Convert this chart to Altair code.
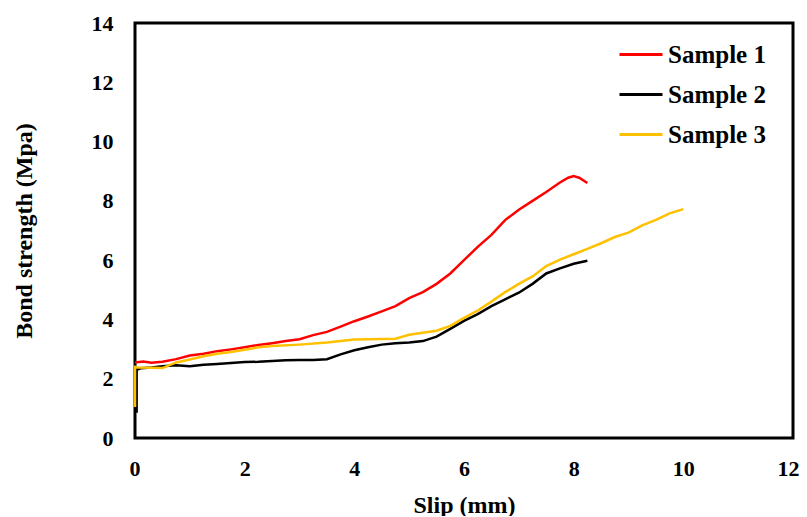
import altair as alt
import pandas as pd

series_names = ["Sample 1", "Sample 2", "Sample 3"]
series_colors = ["#FF0000", "#000000", "#FFC000"]

s1_x = [0, 0.15, 0.3, 0.5, 0.75, 1.0, 1.25, 1.5, 1.75, 2.0, 2.25, 2.5, 2.75, 3.0, 3.25, 3.5,
        3.75, 4.0, 4.25, 4.5, 4.75, 5.0, 5.25, 5.5, 5.75, 6.0, 6.25, 6.5, 6.75, 7.0, 7.25,
        7.5, 7.75, 7.9, 8.0, 8.1, 8.25]
s1_y = [2.55, 2.58, 2.54, 2.57, 2.66, 2.78, 2.84, 2.93, 2.99, 3.06, 3.14, 3.2, 3.27, 3.33, 3.47,
        3.58, 3.76, 3.94, 4.1, 4.27, 4.45, 4.72, 4.92, 5.2, 5.55, 6.0, 6.45, 6.85, 7.35, 7.7,
        8.0, 8.3, 8.62, 8.78, 8.84, 8.78, 8.6]

s2_x = [0.03, 0.03, 0.1, 0.3, 0.5, 0.75, 1.0, 1.25, 1.5, 1.75, 2.0, 2.25, 2.5, 2.75, 3.0, 3.25,
        3.5, 3.75, 4.0, 4.25, 4.5, 4.75, 5.0, 5.25, 5.5, 5.75, 6.0, 6.25, 6.5, 6.75, 7.0, 7.25,
        7.5, 7.75, 8.0, 8.25]
s2_y = [0.85, 2.3, 2.35, 2.38, 2.42, 2.45, 2.42, 2.47, 2.5, 2.53, 2.56, 2.57, 2.6, 2.62, 2.63,
        2.63, 2.66, 2.82, 2.96, 3.06, 3.15, 3.2, 3.22, 3.27, 3.42, 3.68, 3.95, 4.18, 4.45, 4.68,
        4.9, 5.2, 5.55, 5.72, 5.88, 5.98]

s3_x = [0, 0, 0.05, 0.3, 0.5, 0.75, 1.0, 1.25, 1.5, 1.75, 2.0, 2.25, 2.5, 3.0, 3.5, 4.0, 4.5,
        4.75, 5.0, 5.5, 5.75, 6.0, 6.25, 6.5, 6.75, 7.0, 7.25, 7.5, 7.75, 8.0, 8.25, 8.5, 8.75,
        9.0, 9.25, 9.5, 9.75, 10.0]
s3_y = [1.05, 2.4, 2.38, 2.37, 2.36, 2.55, 2.65, 2.76, 2.84, 2.9, 2.98, 3.06, 3.1, 3.15, 3.22,
        3.32, 3.34, 3.35, 3.48, 3.62, 3.78, 4.05, 4.3, 4.6, 4.92, 5.2, 5.45, 5.8, 6.02, 6.2,
        6.38, 6.57, 6.78, 6.93, 7.17, 7.36, 7.58, 7.72]

x_ticks = [0, 2, 4, 6, 8, 10, 12]
y_ticks = [0, 2, 4, 6, 8, 10, 12, 14]

rows = []
for name, xs, ys in zip(series_names, [s1_x, s2_x, s3_x], [s1_y, s2_y, s3_y]):
    for i, (xv, yv) in enumerate(zip(xs, ys)):
        rows.append({"series": name, "slip": xv, "stress": yv, "order": i})
df = pd.DataFrame(rows)

FONT = "Liberation Serif"

chart = alt.Chart(df).mark_line(strokeWidth=2.5).encode(
    x=alt.X("slip:Q",
            scale=alt.Scale(domain=[0, 12], nice=False),
            axis=alt.Axis(values=x_ticks, title="Slip (mm)", labelPadding=20, labelFlush=True,
                          labelFlushOffset=6, titleX=329, titleY=55)),
    y=alt.Y("stress:Q",
            scale=alt.Scale(domain=[0, 14], nice=False),
            axis=alt.Axis(values=y_ticks, title="Bond strength (Mpa)", labelPadding=22,
                          labelFlush=False, titleX=-99, titleY=207.5)),
    color=alt.Color("series:N",
                    scale=alt.Scale(domain=series_names, range=series_colors),
                    legend=alt.Legend(orient="none", legendX=483, legendY=8.5, title=None,
                                      padding=0, symbolType="stroke", symbolSize=1849,
                                      symbolStrokeWidth=3, labelFont=FONT, labelFontSize=25,
                                      labelFontWeight="bold", labelColor="black",
                                      labelOffset=4, rowPadding=4)),
    order="order:Q",
).properties(
    width=658, height=415,
    autosize=alt.AutoSizeParams(type="none"),
    padding={"left": 127, "top": 15, "right": 6, "bottom": 78},
).configure_view(
    stroke="black", strokeWidth=3,
).configure_axis(
    domain=False, ticks=False, grid=False,
    labelFont=FONT, labelFontSize=22, labelFontWeight="bold", labelColor="black",
    titleFont=FONT, titleFontSize=24, titleFontWeight="bold", titleColor="black",
)

chart.save("out.html", embed_options={"renderer": "svg", "actions": False})
